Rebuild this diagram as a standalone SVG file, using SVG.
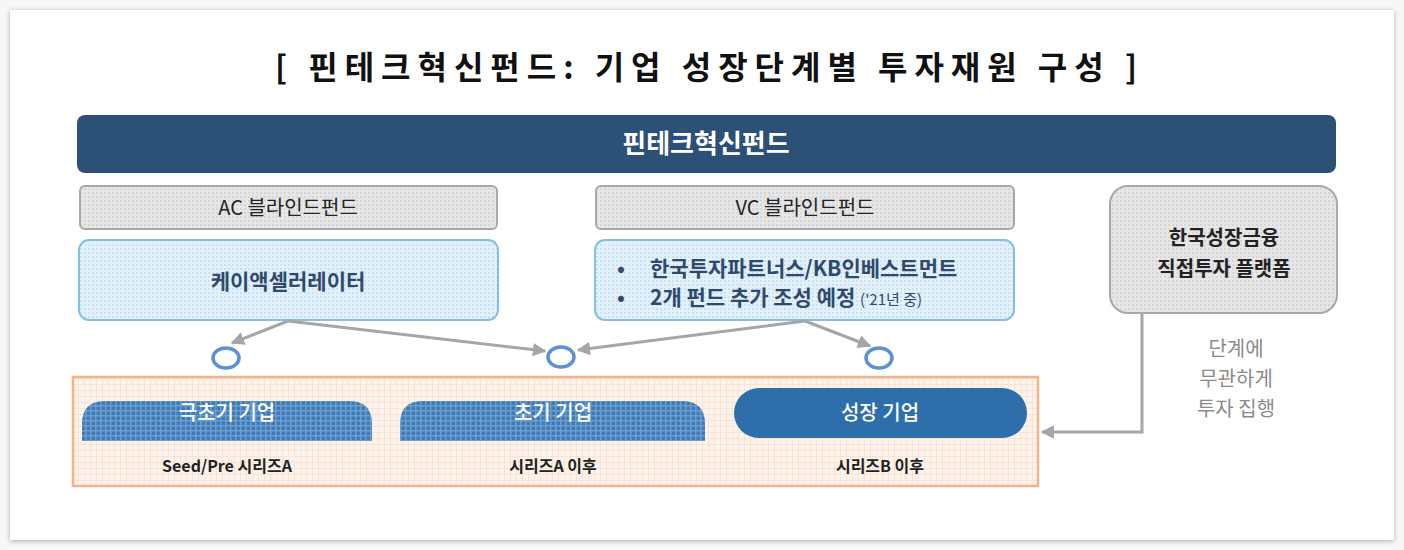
<svg xmlns="http://www.w3.org/2000/svg" width="1404" height="550" viewBox="0 0 1404 550">
<defs>
  <filter id="sh" x="-5%" y="-5%" width="110%" height="110%">
    <feDropShadow dx="0" dy="1" stdDeviation="2.5" flood-color="#000" flood-opacity="0.3"/>
  </filter>
  <pattern id="pBlue" width="4" height="4" patternUnits="userSpaceOnUse">
    <rect width="4" height="4" fill="#e3f1fb"/>
    <rect width="2" height="2" fill="#c9e2f4"/>
  </pattern>
  <pattern id="pGray" width="4" height="4" patternUnits="userSpaceOnUse">
    <rect width="4" height="4" fill="#e6e6e6"/>
    <rect width="2" height="2" fill="#d6d6d6"/>
  </pattern>
  <pattern id="pOrange" width="6" height="6" patternUnits="userSpaceOnUse">
    <rect width="6" height="6" fill="#fdf3ea"/>
    <rect width="6" height="1" fill="#f8e4d6"/>
    <rect width="1" height="6" fill="#f8e4d6"/>
  </pattern>
  <pattern id="pPill" width="5" height="5" patternUnits="userSpaceOnUse">
    <rect width="5" height="5" fill="#3d7ab8"/>
    <rect width="5" height="1.5" fill="#6c9dcc"/>
    <rect width="1.5" height="5" fill="#6c9dcc"/>
  </pattern>
  <marker id="ah" viewBox="0 0 10 10" refX="9" refY="5" markerWidth="4.5" markerHeight="4.5" orient="auto" markerUnits="strokeWidth">
    <path d="M0,0 L10,5 L0,10 z" fill="#a6a6a6"/>
  </marker>
  <style>
    text { font-family: "Noto Sans CJK KR", "Noto Sans", sans-serif; }
    .conn { stroke: #a6a6a6; stroke-width: 3; fill: none; }
    .circ { fill: #fff; stroke: #5b92d4; stroke-width: 3.5; }
    .gbox { fill: url(#pGray); stroke: #a8a8a8; stroke-width: 2; }
    .bbox { fill: url(#pBlue); stroke: #86c0dd; stroke-width: 2; }
    .lbl { font-size: 20px; fill: #222; text-anchor: middle; }
    .dark { font-size: 21px; font-weight: bold; fill: #2f4a6c; }
    .sub { font-size: 16px; font-weight: bold; fill: #222; text-anchor: middle; }
    .pillt { font-size: 20px; font-weight: 500; fill: #fff; text-anchor: middle; }
  </style>
</defs>

<rect x="0" y="0" width="1404" height="550" fill="#f7f7f7"/>
<rect x="10" y="10" width="1384" height="530" fill="#ffffff" filter="url(#sh)"/>

<text x="706" y="79" font-size="32" font-weight="bold" fill="#111" text-anchor="middle" textLength="862" lengthAdjust="spacing">[ 핀테크혁신펀드: 기업 성장단계별 투자재원 구성 ]</text>

<g id="top">
  <rect x="77" y="115" width="1259" height="58" rx="8" fill="#2d5077"/>
  <text x="706" y="153" font-size="26" font-weight="bold" fill="#fff" text-anchor="middle">핀테크혁신펀드</text>
</g>

<g id="ac">
  <rect class="gbox" x="80" y="186" width="417" height="43" rx="5"/>
  <text class="lbl" x="288" y="215">AC 블라인드펀드</text>
</g>
<g id="vc">
  <rect class="gbox" x="596" y="186" width="418" height="43" rx="5"/>
  <text class="lbl" x="805" y="215">VC 블라인드펀드</text>
</g>

<g id="kac">
  <rect class="bbox" x="79" y="240" width="419" height="80" rx="10"/>
  <text class="dark" x="288" y="289" text-anchor="middle" font-size="22">케이액셀러레이터</text>
</g>
<g id="vcfirms">
  <rect class="bbox" x="595" y="240" width="419" height="80" rx="10"/>
  <text class="dark" x="617" y="276">•</text>
  <text class="dark" x="650" y="276">한국투자파트너스/KB인베스트먼트</text>
  <text class="dark" x="617" y="305">•</text>
  <text class="dark" x="650" y="305">2개 펀드 추가 조성 예정 <tspan font-size="15" font-weight="normal">('21년 중)</tspan></text>
</g>

<g id="kgf">
  <rect class="gbox" x="1110" y="186" width="227" height="127" rx="18" stroke="#9c9c9c"/>
  <text x="1224" y="245" font-size="20" font-weight="bold" fill="#222" text-anchor="middle">한국성장금융</text>
  <text x="1224" y="276" font-size="20" font-weight="bold" fill="#222" text-anchor="middle">직접투자 플랫폼</text>
</g>

<g id="note">
  <text x="1236" y="356" font-size="20" fill="#8a8a8a" text-anchor="middle">단계에</text>
  <text x="1236" y="386" font-size="20" fill="#8a8a8a" text-anchor="middle">무관하게</text>
  <text x="1236" y="416" font-size="20" fill="#8a8a8a" text-anchor="middle">투자 집행</text>
</g>

<g id="stages">
  <rect x="73" y="377" width="965" height="109" fill="url(#pOrange)" stroke="#f0b48c" stroke-width="2.5"/>
  <g id="seed">
    <path d="M82,441 V424 Q82,401 105,401 H349 Q372,401 372,424 V441 Z" fill="url(#pPill)"/>
    <text class="pillt" x="227" y="420">극초기 기업</text>
    <text class="sub" x="227" y="472">Seed/Pre 시리즈A</text>
  </g>
  <g id="early">
    <path d="M400,441 V424 Q400,401 423,401 H682 Q705,401 705,424 V441 Z" fill="url(#pPill)"/>
    <text class="pillt" x="553" y="420">초기 기업</text>
    <text class="sub" x="553" y="472">시리즈A 이후</text>
  </g>
  <g id="growth">
    <rect x="734" y="388" width="293" height="50" rx="25" fill="#2e6eab"/>
    <text class="pillt" x="880" y="420">성장 기업</text>
    <text class="sub" x="880" y="472">시리즈B 이후</text>
  </g>
</g>

<g id="connectors">
  <path class="conn" d="M288,321 L232,343" marker-end="url(#ah)"/>
  <path class="conn" d="M288,321 L545,351" marker-end="url(#ah)"/>
  <path class="conn" d="M805,321 L578,350" marker-end="url(#ah)"/>
  <path class="conn" d="M805,321 L870,346" marker-end="url(#ah)"/>
  <path class="conn" d="M1142,313 V432 H1042" marker-end="url(#ah)"/>
</g>

<g id="circles">
  <ellipse class="circ" cx="226" cy="358" rx="13" ry="10"/>
  <ellipse class="circ" cx="561" cy="357" rx="13" ry="10"/>
  <ellipse class="circ" cx="879" cy="358" rx="13" ry="10"/>
</g>
</svg>
